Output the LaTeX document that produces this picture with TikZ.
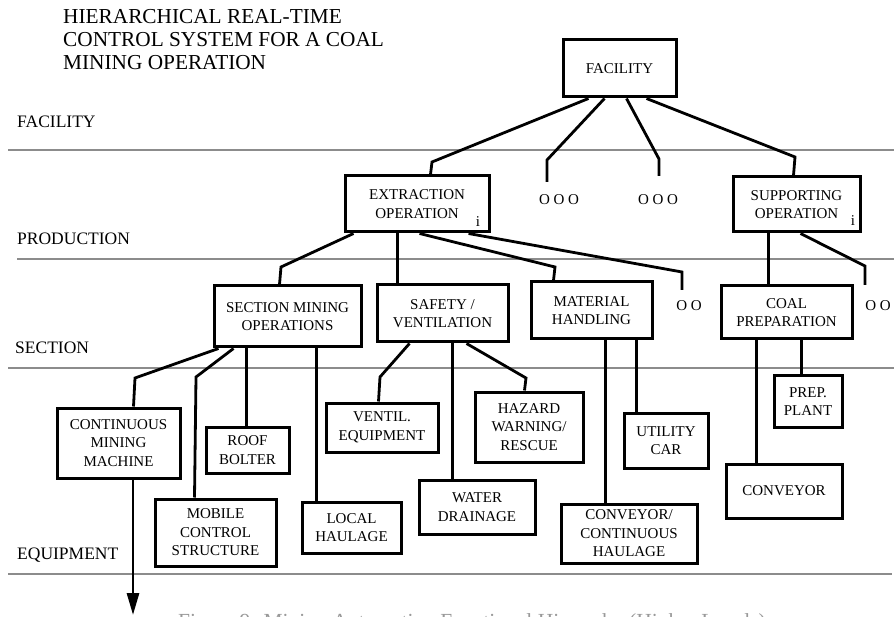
\documentclass[tikz,border=0pt]{standalone}
\usepackage{fontspec}
\setmainfont{Liberation Serif}
\usetikzlibrary{arrows.meta}

\newcommand\boxfont{\fontsize{15}{18.5}\selectfont}
\newcommand\levelfont{\fontsize{17.5}{20}\selectfont}
\newcommand\titlefont{\fontsize{21.3}{23}\selectfont}

\tikzset{
  box/.style={draw, line width=3pt, rectangle, align=center, inner sep=0pt,
              font=\boxfont},
  conn/.style={line width=2.8pt, line join=miter},
  level/.style={line width=2.4pt, draw=black!45},
  lbl/.style={anchor=base west, inner sep=0pt, font=\levelfont},
  dots/.style={inner sep=0pt, font=\boxfont},
}

\begin{document}
\begin{tikzpicture}[x=1pt, y=-1pt]
\useasboundingbox (0,0) rectangle (894,617);

% title
\node[anchor=base west, inner sep=0pt, font=\titlefont] (t1) at (63,24) {HIERARCHICAL REAL-TIME};
\node[anchor=base west, inner sep=0pt, font=\titlefont] (t2) at (63,47) {CONTROL SYSTEM FOR A COAL};
\node[anchor=base west, inner sep=0pt, font=\titlefont] (t3) at (63,70) {MINING OPERATION};

% level separators and level names
\draw[level] (8,150) -- (894,150);
\draw[level] (17,259) -- (894,259);
\draw[level] (8,368) -- (894,368);
\draw[level] (8,574) -- (892,574);

\node[lbl] (lfac) at (17,128) {FACILITY};
\node[lbl] (lprod) at (17,245) {PRODUCTION};
\node[lbl] (lsec) at (15,354) {SECTION};
\node[lbl] (lequ) at (17,559) {EQUIPMENT};

% facility level
\node[box, minimum width=113, minimum height=57] (fac) at (619.5,68.5) {FACILITY};

% production level
\node[box, minimum width=144, minimum height=56] (ext) at (417,204) {EXTRACTION\\OPERATION};
\node[box, minimum width=127, minimum height=55] (sup) at (796.5,204.5) {SUPPORTING\\OPERATION};
\node[dots] (exti) at (478,222) {i};
\node[dots] (supi) at (853,221) {i};
\node[dots] (ooo1) at (559,200) {O O O};
\node[dots] (ooo2) at (658,200) {O O O};
\coordinate (d1) at (547,182);
\coordinate (d2) at (659,176);

% section level
\node[box, minimum width=147, minimum height=61] (sec) at (287.5,316.5) {SECTION MINING\\OPERATIONS};
\node[box, minimum width=131, minimum height=57] (saf) at (442.5,313.5) {SAFETY /\\VENTILATION};
\node[box, minimum width=121, minimum height=57] (mat) at (591.5,310.5) {MATERIAL\\HANDLING};
\node[box, minimum width=131, minimum height=53] (coal) at (786.5,312.5) {COAL\\PREPARATION};
\node[dots] (oo1) at (689,306) {O O};
\node[dots] (oo2) at (878,306) {O O};
\coordinate (d3) at (682,290);
\coordinate (d4) at (865,285);

% equipment level
\node[box, minimum width=123, minimum height=70] (cont) at (118.5,443) {CONTINUOUS\\MINING\\MACHINE};
\node[box, minimum width=121, minimum height=67] (mob) at (215.5,532.5) {MOBILE\\CONTROL\\STRUCTURE};
\node[box, minimum width=83, minimum height=46] (roof) at (247.5,450) {ROOF\\BOLTER};
\node[box, minimum width=99, minimum height=51] (loc) at (351.5,527.5) {LOCAL\\HAULAGE};
\node[box, minimum width=112, minimum height=49] (ven) at (382,427.5) {VENTIL.\\EQUIPMENT};
\node[box, minimum width=116, minimum height=54] (wat) at (477,507) {WATER\\DRAINAGE};
\node[box, minimum width=108, minimum height=70] (haz) at (529,427) {HAZARD\\WARNING/\\RESCUE};
\node[box, minimum width=136, minimum height=59] (cvh) at (629,533.5) {CONVEYOR/\\CONTINUOUS\\HAULAGE};
\node[box, minimum width=84, minimum height=55] (util) at (666,440.5) {UTILITY\\CAR};
\node[box, minimum width=116, minimum height=54] (conv) at (784,491) {CONVEYOR};
\node[box, minimum width=68, minimum height=51] (prep) at (808,401.5) {PREP.\\PLANT};
\coordinate (ar) at (133,615);

% facility -> production
\draw[conn] ([xshift=27]fac.south west) -- (432,162) -- ([xshift=87]ext.north west);
\draw[conn] ([xshift=43]fac.south west) -- (547,160) -- (d1);
\draw[conn] ([xshift=65]fac.south west) -- (659,159) -- (d2);
\draw[conn] ([xshift=85]fac.south west) -- (795,157) -- ([xshift=62]sup.north west);

% production -> section
\draw[conn] ([xshift=10]ext.south west) -- (281,267) -- ([xshift=67]sec.north west);
\draw[conn] ([xshift=54]ext.south west) -- ([xshift=22]saf.north west);
\draw[conn] ([xshift=76]ext.south west) -- (555,267) -- ([xshift=24]mat.north west);
\draw[conn] ([xshift=125]ext.south west) -- (682,272) -- (d3);
\draw[conn] ([xshift=37]sup.south west) -- ([xshift=49]coal.north west);
\draw[conn] ([xshift=69]sup.south west) -- (865,266) -- (d4);

% section -> equipment
\draw[conn] ([xshift=6]sec.south west) -- (135,378) -- ([xshift=78]cont.north west);
\draw[conn] ([xshift=21]sec.south west) -- (196,377) -- ([xshift=41]mob.north west);
\draw[conn] ([xshift=34]sec.south west) -- ([xshift=42]roof.north west);
\draw[conn] ([xshift=104]sec.south west) -- ([xshift=16]loc.north west);
\draw[conn] ([xshift=34]saf.south west) -- (380,377) -- ([xshift=54]ven.north west);
\draw[conn] ([xshift=77]saf.south west) -- ([xshift=35]wat.north west);
\draw[conn] ([xshift=91]saf.south west) -- (526,378) -- ([xshift=51]haz.north west);
\draw[conn] ([xshift=76]mat.south west) -- ([xshift=46]cvh.north west);
\draw[conn] ([xshift=107]mat.south west) -- ([xshift=14]util.north west);
\draw[conn] ([xshift=37]coal.south west) -- ([xshift=32]conv.north west);
\draw[conn] ([xshift=82]coal.south west) -- ([xshift=29]prep.north west);

% lower levels
\draw[conn, -{Triangle[length=22pt,width=12pt]}] (cont.south -| ar) -- (ar);

% caption
\node[anchor=base, inner sep=0pt, text=black!40, font=\fontsize{21.5}{24}\selectfont] (cap) at (472,628)
  {Figure 9: Mining Automation Functional Hierarchy (Higher Levels)};
\end{tikzpicture}
\end{document}
